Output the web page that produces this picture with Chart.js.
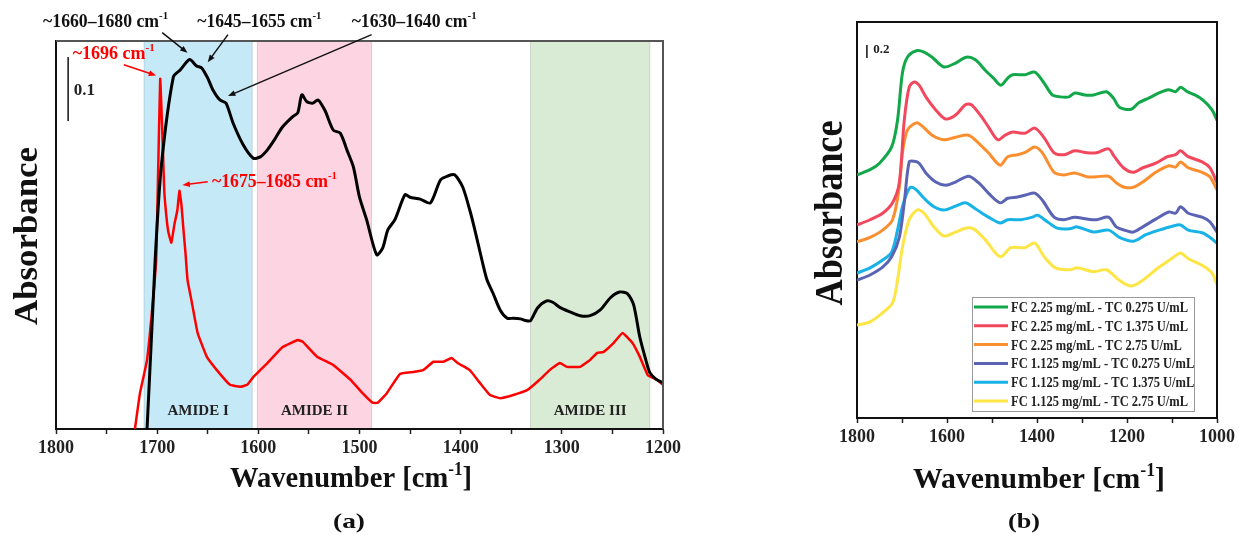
<!DOCTYPE html>
<html>
<head>
<meta charset="utf-8">
<script src="https://cdn.jsdelivr.net/npm/chart.js@4.4.1/dist/chart.umd.min.js"></script>
<style>
  html, body { margin: 0; padding: 0; background: #fff; }
  #wrapA { position: absolute; left: 0; top: 0; }
  #wrapB { position: absolute; left: 760px; top: 0; }
</style>
</head>
<body>
<div id="wrapA"><canvas id="chartA" width="720" height="535"></canvas></div>
<div id="wrapB"><canvas id="chartB" width="479" height="535"></canvas></div>
<script>
// ---- panel (a) data: wavenumber [cm-1] / absorbance ----
const wnBlack = [1712,1710,1702,1696,1684,1677,1668,1661,1656,1650,1645,1638,1632,1625,1615,1605,1598,1591,1584,1576,1566,1561,1557,1552,1546,1541,1534,1526,1519,1512,1506,1500,1493,1483,1477,1472,1465,1455,1450,1440,1430,1420,1413,1406,1398,1391,1386,1379,1374,1368,1361,1354,1348,1341,1335,1331,1324,1315,1309,1302,1292,1282,1272,1262,1252,1243,1235,1229,1223,1217,1213,1207,1200];
const absBlack = [-0.02,0,0.264,0.409,0.55,0.561,0.577,0.567,0.564,0.548,0.53,0.514,0.509,0.478,0.444,0.423,0.425,0.436,0.452,0.472,0.488,0.494,0.522,0.511,0.509,0.514,0.497,0.467,0.462,0.434,0.409,0.362,0.327,0.272,0.283,0.311,0.327,0.366,0.362,0.359,0.353,0.389,0.395,0.397,0.378,0.342,0.311,0.264,0.233,0.212,0.186,0.173,0.173,0.172,0.169,0.169,0.189,0.2,0.198,0.19,0.183,0.177,0.177,0.186,0.205,0.214,0.211,0.194,0.144,0.108,0.088,0.078,0.072];

const wnRed = [1725,1722,1717,1710,1705,1701,1699,1697,1695,1693,1691,1689,1686,1683,1680,1678,1676,1674,1672,1670,1666,1660,1651,1641,1628,1618,1611,1605,1591,1576,1561,1556,1542,1526,1509,1497,1487,1482,1473,1460,1447,1437,1427,1417,1409,1403,1391,1381,1371,1361,1348,1334,1322,1312,1302,1295,1282,1272,1265,1259,1249,1240,1230,1223,1215,1206,1200];
const absRed = [-0.03,0,0.056,0.108,0.186,0.264,0.405,0.547,0.467,0.373,0.334,0.308,0.291,0.319,0.342,0.372,0.35,0.311,0.275,0.233,0.2,0.15,0.113,0.092,0.069,0.066,0.069,0.081,0.103,0.128,0.139,0.136,0.113,0.1,0.077,0.056,0.041,0.041,0.056,0.086,0.089,0.092,0.105,0.105,0.111,0.103,0.092,0.072,0.053,0.048,0.053,0.061,0.077,0.092,0.103,0.097,0.097,0.108,0.119,0.12,0.134,0.15,0.134,0.113,0.084,0.077,0.069];

// amide bands
const bandFrom = [1713, 1601, 1331];
const bandTo = [1606, 1488, 1213];
const bandNames = ["AMIDE I", "AMIDE II", "AMIDE III"];

// ---- panel (b) data ----
const gWn = [1800,1771,1750,1723,1710,1699,1688,1668,1651,1633,1607,1581,1557,1537,1515,1497,1480,1465,1454,1427,1405,1384,1366,1348,1329,1316,1294,1274,1246,1230,1217,1191,1174,1152,1129,1108,1092,1081,1066,1049,1031,1011,1000];
const gAbs = [3.74,3.82,3.92,4.17,4.58,5.31,5.55,5.65,5.63,5.55,5.40,5.46,5.55,5.51,5.35,5.23,5.12,5.23,5.28,5.28,5.32,5.15,4.97,4.94,4.94,5.00,4.97,4.97,5.02,4.92,4.78,4.75,4.85,4.92,5.00,5.05,5.02,5.09,5.02,4.97,4.89,4.74,4.58];
const rWn = [1800,1771,1743,1721,1706,1695,1684,1673,1662,1647,1625,1603,1581,1559,1546,1526,1508,1487,1471,1454,1427,1405,1384,1362,1340,1316,1289,1268,1241,1228,1208,1186,1165,1136,1110,1092,1081,1064,1033,1016,1000];
const rAbs = [2.97,3.05,3.15,3.31,3.62,4.58,5.09,5.17,5.12,4.94,4.74,4.60,4.66,4.82,4.82,4.66,4.48,4.28,4.35,4.40,4.38,4.46,4.31,4.08,4.05,4.11,4.08,4.08,4.14,4.02,3.85,3.78,3.85,3.92,4.02,4.05,4.11,4.02,3.94,3.85,3.62];
const oWn = [1800,1771,1743,1721,1706,1699,1688,1668,1655,1633,1607,1581,1552,1530,1508,1482,1465,1443,1425,1405,1388,1362,1340,1316,1289,1268,1241,1224,1206,1186,1165,1136,1107,1092,1081,1064,1033,1016,1000];
const oAbs = [2.71,2.78,2.89,3.05,3.55,4.08,4.43,4.54,4.49,4.35,4.28,4.32,4.35,4.23,4.08,3.89,4.02,4.05,4.09,4.17,4.08,3.78,3.74,3.77,3.71,3.71,3.72,3.62,3.55,3.55,3.63,3.78,3.88,3.86,3.94,3.85,3.78,3.71,3.51];
const pWn = [1800,1771,1743,1723,1706,1695,1684,1673,1662,1647,1625,1603,1581,1552,1530,1508,1482,1465,1443,1425,1405,1388,1362,1340,1316,1289,1268,1241,1224,1206,1186,1165,1136,1107,1092,1081,1064,1033,1016,1000];
const pAbs = [2.12,2.20,2.32,2.48,2.78,3.31,3.94,3.95,3.92,3.77,3.63,3.58,3.63,3.72,3.62,3.46,3.31,3.38,3.40,3.43,3.46,3.35,3.09,3.05,3.09,3.06,3.05,3.09,2.94,2.89,2.86,2.94,3.06,3.17,3.15,3.25,3.15,3.09,3.02,2.86];
const cWn = [1800,1771,1743,1723,1710,1699,1688,1680,1668,1651,1629,1607,1581,1559,1537,1508,1482,1465,1436,1410,1399,1377,1355,1327,1311,1274,1241,1217,1186,1158,1129,1099,1081,1064,1033,1016,1000];
const cAbs = [2.23,2.31,2.43,2.55,2.89,3.25,3.48,3.55,3.51,3.38,3.25,3.20,3.26,3.31,3.22,3.09,3.00,3.05,3.05,3.09,3.12,3.02,2.92,2.91,2.94,2.86,2.89,2.78,2.72,2.82,2.89,2.95,2.97,2.89,2.85,2.78,2.69];
const yWn = [1800,1771,1743,1721,1710,1699,1684,1666,1651,1629,1607,1581,1559,1541,1515,1482,1458,1427,1405,1384,1359,1327,1311,1274,1246,1217,1191,1165,1129,1099,1081,1064,1033,1011,1000];
const yAbs = [1.43,1.48,1.62,1.77,2.12,2.63,3.05,3.20,3.15,2.94,2.80,2.86,2.92,2.91,2.74,2.48,2.62,2.62,2.69,2.48,2.31,2.28,2.31,2.25,2.28,2.12,2.03,2.12,2.32,2.46,2.54,2.45,2.35,2.23,2.05];

const seriesLabels = [
  "FC 2.25 mg/mL - TC 0.275 U/mL",
  "FC 2.25 mg/mL - TC 1.375 U/mL",
  "FC 2.25 mg/mL - TC 2.75 U/mL",
  "FC 1.125 mg/mL - TC 0.275 U/mL",
  "FC 1.125 mg/mL - TC 1.375 U/mL",
  "FC 1.125 mg/mL - TC 2.75 U/mL"
];
const seriesColors = ["#12a84a", "#f2485e", "#fb8f2f", "#5b64b4", "#17b2e6", "#fde545"];

const SERIF = '"Liberation Serif", "Times New Roman", serif';

function pts(xs, ys) {
  return xs.map((x, i) => ({ x: x, y: ys[i] }));
}

// draws text parts centred on x, squeezed/stretched to width
function fitText(ctx, parts, x, y, width, color) {
  let total = 0;
  parts.forEach(p => {
    ctx.font = "bold " + p[1] + "px " + SERIF;
    total += ctx.measureText(p[0]).width;
  });
  const sx = width ? width / total : 1;
  ctx.save();
  ctx.translate(x, y);
  ctx.scale(sx, 1);
  ctx.fillStyle = color || "#111";
  ctx.textAlign = "left";
  ctx.textBaseline = "alphabetic";
  let cx = -total / 2;
  parts.forEach(p => {
    ctx.font = "bold " + p[1] + "px " + SERIF;
    ctx.fillText(p[0], cx, p[2] || 0);
    cx += ctx.measureText(p[0]).width;
  });
  ctx.restore();
}

function arrow(ctx, x1, y1, x2, y2, color, w) {
  const a = Math.atan2(y2 - y1, x2 - x1), h = 8;
  ctx.save();
  ctx.strokeStyle = color;
  ctx.fillStyle = color;
  ctx.lineWidth = w;
  ctx.beginPath();
  ctx.moveTo(x1, y1);
  ctx.lineTo(x2 - h * 0.7 * Math.cos(a), y2 - h * 0.7 * Math.sin(a));
  ctx.stroke();
  ctx.beginPath();
  ctx.moveTo(x2, y2);
  ctx.lineTo(x2 - h * Math.cos(a - 0.38), y2 - h * Math.sin(a - 0.38));
  ctx.lineTo(x2 - h * Math.cos(a + 0.38), y2 - h * Math.sin(a + 0.38));
  ctx.closePath();
  ctx.fill();
  ctx.restore();
}

// annotation layout for panel (a), in data units
const notesA = [
  { t: "~1660\u20131680 cm", at: [1751, 0.628], w: 125, from: [1695, 0.619], to: [1670, 0.5875], c: "#111" },
  { t: "~1645\u20131655 cm", at: [1599, 0.628], w: 124, from: [1630, 0.616], to: [1650, 0.573], c: "#111" },
  { t: "~1630\u20131640 cm", at: [1446, 0.628], w: 125, from: [1488, 0.616], to: [1630, 0.52], c: "#111" },
  { t: "~1696 cm", at: [1743, 0.578], w: 82, from: [1733, 0.569], to: [1701, 0.552], c: "#f00" },
  { t: "~1675\u20131685 cm", at: [1584, 0.378], w: 125, from: [1650, 0.386], to: [1675, 0.381], c: "#f00" }
];

const bandColors = ["#c6e9f7", "#fcd4e2", "#d9ebd5"];

const panelA = {
  id: "panelA",
  beforeDatasetsDraw(chart) {
    const { ctx, chartArea: ca, scales } = chart;
    const x = scales.x;
    ctx.save();
    bandFrom.forEach((f, i) => {
      const x1 = x.getPixelForValue(f), x2 = x.getPixelForValue(bandTo[i]);
      ctx.fillStyle = bandColors[i];
      ctx.fillRect(x1, ca.top + 1, x2 - x1, ca.bottom - ca.top - 2);
      ctx.strokeStyle = "rgba(0,0,0,0.13)";
      ctx.lineWidth = 1;
      ctx.beginPath();
      ctx.moveTo(x1, ca.top); ctx.lineTo(x1, ca.bottom);
      ctx.moveTo(x2, ca.top); ctx.lineTo(x2, ca.bottom);
      ctx.stroke();
      fitText(ctx, [[bandNames[i], 15, 0]], (x1 + x2) / 2, ca.bottom - 14, 0, "#222");
    });
    ctx.restore();
  },
  afterDatasetsDraw(chart) {
    const { ctx, chartArea: ca, scales } = chart;
    const x = scales.x, y = scales.y;
    // frame top/right
    ctx.save();
    ctx.strokeStyle = "#555";
    ctx.lineWidth = 2;
    ctx.beginPath();
    ctx.moveTo(ca.left, ca.top); ctx.lineTo(ca.right, ca.top); ctx.lineTo(ca.right, ca.bottom);
    ctx.stroke();
    // scale bar 0.1
    ctx.strokeStyle = "#111";
    ctx.lineWidth = 1.5;
    ctx.beginPath();
    ctx.moveTo(x.getPixelForValue(1788), y.getPixelForValue(0.581));
    ctx.lineTo(x.getPixelForValue(1788), y.getPixelForValue(0.481));
    ctx.stroke();
    ctx.restore();
    fitText(ctx, [["0.1", 17, 0]], x.getPixelForValue(1772), y.getPixelForValue(0.522), 0, "#222");
    // annotations
    notesA.forEach(n => {
      fitText(ctx, [[n.t, 18, 0], ["-1", 11, -8]], x.getPixelForValue(n.at[0]), y.getPixelForValue(n.at[1]), n.w, n.c);
      arrow(ctx, x.getPixelForValue(n.from[0]), y.getPixelForValue(n.from[1]),
        x.getPixelForValue(n.to[0]), y.getPixelForValue(n.to[1]), n.c, 1.5);
    });
  },
  afterDraw(chart) {
    const ctx = chart.ctx;
    ctx.save();
    ctx.translate(37, 236);
    ctx.rotate(-Math.PI / 2);
    fitText(ctx, [["Absorbance", 34, 0]], 0, 0, 178, "#111");
    ctx.restore();
    fitText(ctx, [["Wavenumber [cm", 30, 0], ["-1", 18, -12], ["]", 30, 0]], 351, 487, 242, "#111");
    fitText(ctx, [["(a)", 22, 0]], 349, 528, 32, "#111");
  }
};

const panelB = {
  id: "panelB",
  afterDatasetsDraw(chart) {
    const { ctx, chartArea: ca, scales } = chart;
    const x = scales.x, y = scales.y;
    ctx.save();
    ctx.strokeStyle = "#111";
    ctx.lineWidth = 2;
    ctx.beginPath();
    ctx.moveTo(ca.left, ca.top); ctx.lineTo(ca.right, ca.top); ctx.lineTo(ca.right, ca.bottom);
    ctx.stroke();
    // scale bar 0.2
    ctx.lineWidth = 1.5;
    ctx.beginPath();
    ctx.moveTo(x.getPixelForValue(1778), y.getPixelForValue(5.74));
    ctx.lineTo(x.getPixelForValue(1778), y.getPixelForValue(5.54));
    ctx.stroke();
    ctx.restore();
    fitText(ctx, [["0.2", 13, 0]], x.getPixelForValue(1746), y.getPixelForValue(5.615), 0, "#222");

    // legend box
    const bw = 222, bh = 114;
    const bx = ca.right - 23 - bw, by = ca.bottom - 7 - bh;
    ctx.save();
    ctx.fillStyle = "#fff";
    ctx.fillRect(bx, by, bw, bh);
    ctx.strokeStyle = "#9a9a9a";
    ctx.lineWidth = 1;
    ctx.strokeRect(bx + 0.5, by + 0.5, bw, bh);
    ctx.font = "bold 14px " + SERIF;
    const sx = 177 / ctx.measureText(seriesLabels[0]).width;
    seriesLabels.forEach((lab, i) => {
      const ry = by + 10 + i * 18.8;
      ctx.strokeStyle = seriesColors[i];
      ctx.lineWidth = 3;
      ctx.beginPath();
      ctx.moveTo(bx + 2, ry); ctx.lineTo(bx + 36, ry);
      ctx.stroke();
      ctx.save();
      ctx.translate(bx + 39, ry + 5);
      ctx.scale(sx, 1);
      ctx.fillStyle = "#222";
      ctx.textAlign = "left";
      ctx.fillText(lab, 0, 0);
      ctx.restore();
    });
    ctx.restore();
  },
  afterDraw(chart) {
    const ctx = chart.ctx;
    ctx.save();
    ctx.translate(82, 213);
    ctx.rotate(-Math.PI / 2);
    fitText(ctx, [["Absorbance", 40, 0]], 0, 0, 185, "#111");
    ctx.restore();
    fitText(ctx, [["Wavenumber [cm", 30, 0], ["-1", 18, -12], ["]", 30, 0]], 279, 488, 252, "#111");
    fitText(ctx, [["(b)", 22, 0]], 264, 528, 32, "#111");
  }
};

function xAxis(min, max, step, labelEvery, h) {
  return {
    type: "linear", reverse: true, min: min, max: max,
    afterFit: s => { s.height = h; },
    grid: { drawOnChartArea: false, drawTicks: true, tickLength: 5, color: "#222", tickWidth: 1.5 },
    border: { display: true, color: "#111", width: 2 },
    ticks: {
      stepSize: step, padding: 4, color: "#222", maxRotation: 0, autoSkip: false,
      font: { family: SERIF, size: 18, weight: "bold" },
      callback: v => (v % labelEvery === 0 ? String(v) : "")
    }
  };
}

function yAxis(max, w) {
  return {
    type: "linear", min: 0, max: max,
    afterFit: s => { s.width = w; },
    grid: { display: false },
    border: { display: true, color: "#111", width: 2 },
    ticks: { display: false }
  };
}

new Chart(document.getElementById("chartA"), {
  type: "scatter",
  data: {
    datasets: [
      { data: pts(wnBlack, absBlack), showLine: true, borderColor: "#000", borderWidth: 3, pointRadius: 0, tension: 0.25 },
      { data: pts(wnRed, absRed), showLine: true, borderColor: "#ff0000", borderWidth: 2.5, pointRadius: 0, tension: 0.1 }
    ]
  },
  options: {
    responsive: false,
    animation: false,
    events: [],
    layout: { padding: { left: 0, top: 41, right: 57, bottom: 0 } },
    plugins: { legend: { display: false }, tooltip: { enabled: false } },
    scales: {
      x: xAxis(1200, 1800, 50, 100, 106),
      y: yAxis(0.606, 56)
    }
  },
  plugins: [panelA]
});

const bSeries = [[gWn, gAbs], [rWn, rAbs], [oWn, oAbs], [pWn, pAbs], [cWn, cAbs], [yWn, yAbs]];

new Chart(document.getElementById("chartB"), {
  type: "scatter",
  data: {
    datasets: bSeries.map((s, i) => ({
      label: seriesLabels[i],
      data: pts(s[0], s[1]),
      showLine: true,
      borderColor: seriesColors[i],
      borderWidth: 3,
      pointRadius: 0,
      tension: 0.3
    }))
  },
  options: {
    responsive: false,
    animation: false,
    events: [],
    layout: { padding: { left: 0, top: 22, right: 17, bottom: 0 } },
    plugins: { legend: { display: false }, tooltip: { enabled: false } },
    scales: {
      x: xAxis(1000, 1800, 100, 200, 117),
      y: yAxis(6.092, 97)
    }
  },
  plugins: [panelB]
});
</script>
</body>
</html>
